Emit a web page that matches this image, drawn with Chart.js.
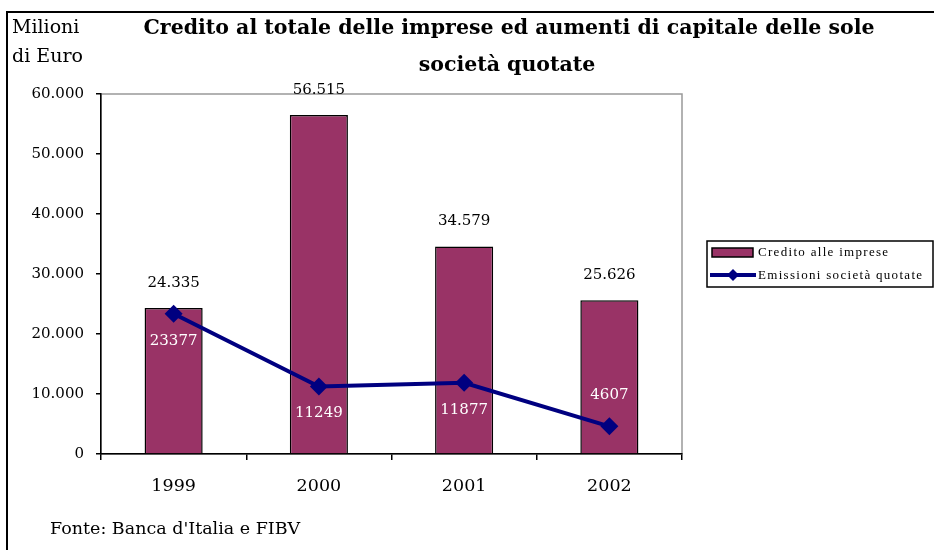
<!DOCTYPE html>
<html>
<head>
<meta charset="utf-8">
<title>Credito alle imprese</title>
<script src="https://cdn.jsdelivr.net/npm/chart.js@4/dist/chart.umd.min.js"></script>
<style>
  html, body { margin: 0; padding: 0; background: #fff; }
  #wrap { width: 934px; height: 550px; position: relative; }
</style>
</head>
<body>
<div id="wrap"><canvas id="chart"></canvas></div>
<script>
const years = ["1999", "2000", "2001", "2002"];
const creditoImprese = [24335, 56515, 34579, 25626];
const emissioniQuotate = [23377, 11249, 11877, 4607];
const emissioniLabelSide = ["below", "below", "below", "above"];
const yTicks = [0, 10000, 20000, 30000, 40000, 50000, 60000];

const SERIF = "'DejaVu Serif', 'Liberation Serif', serif";
const TIMES = "'Liberation Serif', serif";
const BAR_COLOR = "#993366";
const LINE_COLOR = "#000080";

// 24335 -> "24.335"
function withDots(n) {
  return String(n).replace(/\B(?=(\d{3})+(?!\d))/g, ".");
}

// frame, titles, value labels and the boxed legend
const decorations = {
  id: "decorations",
  beforeDraw(chart) {
    const ctx = chart.ctx;
    const a = chart.chartArea;
    ctx.save();
    ctx.fillStyle = "#fff";
    ctx.fillRect(0, 0, chart.width, chart.height);

    // outer frame (top and left edges)
    ctx.strokeStyle = "#000";
    ctx.lineWidth = 2;
    ctx.beginPath();
    ctx.moveTo(7, chart.height);
    ctx.lineTo(7, 12);
    ctx.lineTo(chart.width, 12);
    ctx.stroke();

    // plot area border
    ctx.strokeStyle = "#999";
    ctx.lineWidth = 1.5;
    ctx.strokeRect(a.left, a.top, a.right - a.left, a.bottom - a.top);

    ctx.fillStyle = "#000";
    ctx.textBaseline = "middle";
    ctx.font = "bold 20.5px " + SERIF;
    ctx.textAlign = "center";
    ctx.fillText("Credito al totale delle imprese ed aumenti di capitale delle sole", 509, 29);
    ctx.fillText("società quotate", 507, 66);

    ctx.font = "19px " + SERIF;
    ctx.textAlign = "left";
    ctx.fillText("Milioni", 12, 28);
    ctx.fillText("di Euro", 12, 57);
    ctx.font = "17.5px " + SERIF;
    ctx.fillText("Fonte: Banca d'Italia e FIBV", 50, 529);
    ctx.restore();
  },
  afterDatasetsDraw(chart) {
    const ctx = chart.ctx;
    ctx.save();
    ctx.font = "15px " + SERIF;
    ctx.textAlign = "center";
    ctx.textBaseline = "middle";

    chart.getDatasetMeta(0).data.forEach((bar, i) => {
      ctx.fillStyle = "#000";
      ctx.fillText(withDots(creditoImprese[i]), bar.x, bar.y - 25);
    });
    chart.getDatasetMeta(1).data.forEach((pt, i) => {
      ctx.fillStyle = "#fff";
      const dy = emissioniLabelSide[i] === "above" ? -31 : 27;
      ctx.fillText(String(emissioniQuotate[i]), pt.x, pt.y + dy);
    });

    // legend
    const lx = 707, ly = 241, lw = 226, lh = 46;
    ctx.strokeStyle = "#000";
    ctx.lineWidth = 1.5;
    ctx.strokeRect(lx, ly, lw, lh);
    ctx.fillStyle = BAR_COLOR;
    ctx.fillRect(712, 248, 41, 9);
    ctx.strokeRect(712, 248, 41, 9);

    ctx.strokeStyle = LINE_COLOR;
    ctx.lineWidth = 4;
    ctx.beginPath();
    ctx.moveTo(710, 275);
    ctx.lineTo(756, 275);
    ctx.stroke();
    ctx.fillStyle = LINE_COLOR;
    ctx.beginPath();
    ctx.moveTo(733, 269);
    ctx.lineTo(739, 275);
    ctx.lineTo(733, 281);
    ctx.lineTo(727, 275);
    ctx.closePath();
    ctx.fill();

    ctx.fillStyle = "#000";
    ctx.font = "13px " + TIMES;
    ctx.textAlign = "left";
    if ("letterSpacing" in ctx) ctx.letterSpacing = "1.3px";
    ctx.fillText(chart.data.datasets[0].label, 758, 253);
    ctx.fillText(chart.data.datasets[1].label, 758, 276);
    ctx.restore();
  }
};

new Chart(document.getElementById("chart"), {
  type: "bar",
  data: {
    labels: years,
    datasets: [
      {
        type: "bar",
        label: "Credito alle imprese",
        data: creditoImprese,
        backgroundColor: BAR_COLOR,
        borderColor: "#000",
        borderWidth: 1.5,
        barPercentage: 0.5,
        categoryPercentage: 0.8,
        order: 1
      },
      {
        type: "line",
        label: "Emissioni società quotate",
        data: emissioniQuotate,
        borderColor: LINE_COLOR,
        backgroundColor: LINE_COLOR,
        borderWidth: 4,
        pointStyle: "rectRot",
        pointRadius: 9,
        pointBorderWidth: 0,
        tension: 0,
        order: 0
      }
    ]
  },
  options: {
    responsive: true,
    maintainAspectRatio: false,
    animation: false,
    layout: { padding: { left: 0, top: 94, right: 252, bottom: 0 } },
    plugins: {
      legend: { display: false },
      title: { display: false },
      tooltip: { enabled: false }
    },
    scales: {
      x: {
        offset: true,
        grid: {
          offset: true,
          drawOnChartArea: false,
          drawTicks: true,
          tickLength: 6,
          color: "#000",
          lineWidth: 1.5
        },
        border: { color: "#000", width: 1.5 },
        ticks: {
          color: "#000",
          padding: 16,
          font: { family: SERIF, size: 17.5 }
        },
        afterFit(scale) { scale.height = 96; }
      },
      y: {
        min: 0,
        max: 60000,
        afterBuildTicks(scale) { scale.ticks = yTicks.map(v => ({ value: v })); },
        grid: {
          drawOnChartArea: false,
          drawTicks: true,
          tickLength: 5,
          color: "#000",
          lineWidth: 1.5
        },
        border: { color: "#000", width: 1.5 },
        ticks: {
          color: "#000",
          padding: 12,
          font: { family: SERIF, size: 15 },
          callback: v => withDots(v)
        },
        afterFit(scale) { scale.width = 101; }
      }
    }
  },
  plugins: [decorations]
});
</script>
</body>
</html>
